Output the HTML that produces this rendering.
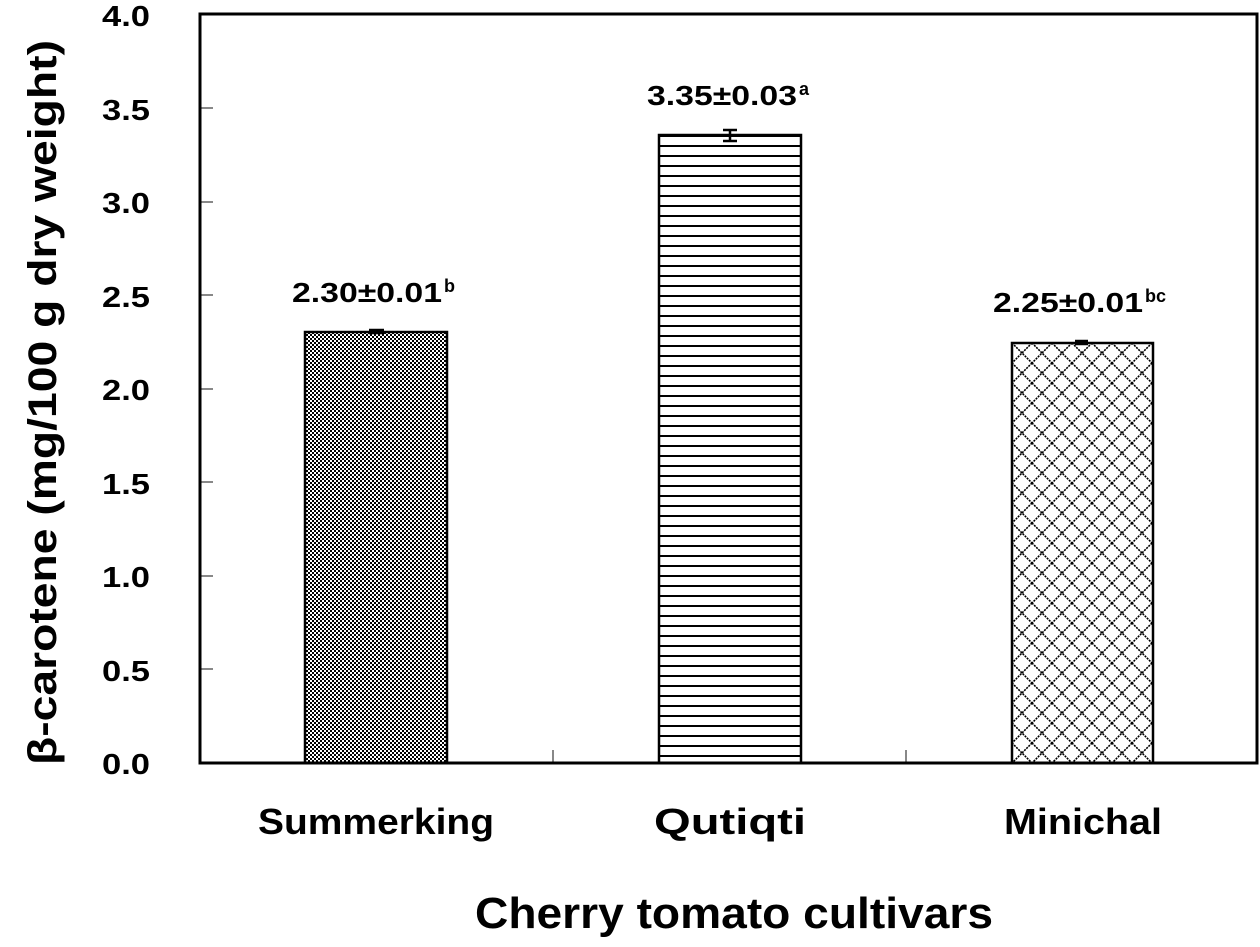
<!DOCTYPE html>
<html><head><style>body{margin:0;background:#fff}</style></head><body>
<svg width="1260" height="942" xmlns="http://www.w3.org/2000/svg" font-family="'Liberation Sans','Noto Sans CJK KR',sans-serif" font-weight="bold">
<defs>
<pattern id="chk" width="4" height="4" patternUnits="userSpaceOnUse">
<rect width="4" height="4" fill="#fff"/><rect width="2" height="2" fill="#000"/><rect x="2" y="2" width="2" height="2" fill="#000"/>
</pattern>
<pattern id="hl" width="10" height="10" patternUnits="userSpaceOnUse" y="135">
<rect width="10" height="10" fill="#fff"/><rect y="0" width="10" height="2" fill="#000"/>
</pattern>
<pattern id="xh" width="20" height="20" patternUnits="userSpaceOnUse" x="1012" y="343">
<rect width="20" height="20" fill="#fff"/>
<path d="M0 0L20 20M20 0L0 20" stroke="#000" stroke-width="1.6" stroke-dasharray="2 1"/>
</pattern>
</defs>
<g stroke="#888" stroke-width="2">
<line x1="200" y1="108" x2="213" y2="108"/><line x1="200" y1="202" x2="213" y2="202"/>
<line x1="200" y1="295" x2="213" y2="295"/><line x1="200" y1="389" x2="213" y2="389"/>
<line x1="200" y1="482" x2="213" y2="482"/><line x1="200" y1="576" x2="213" y2="576"/>
<line x1="200" y1="669" x2="213" y2="669"/>
<line x1="553" y1="763" x2="553" y2="750"/><line x1="906" y1="763" x2="906" y2="750"/>
</g>
<rect x="305" y="332" width="142" height="431" fill="url(#chk)" stroke="#000" stroke-width="2.5"/>
<rect x="659" y="135" width="142" height="628" fill="url(#hl)" stroke="#000" stroke-width="2.5"/>
<rect x="1012" y="343" width="141" height="420" fill="url(#xh)" stroke="#000" stroke-width="2.5"/>
<g stroke="#000" stroke-width="2.5">
<line x1="369" y1="330" x2="384" y2="330"/><line x1="369" y1="333" x2="384" y2="333"/>
<line x1="723" y1="130" x2="737" y2="130"/><line x1="730" y1="130" x2="730" y2="141"/><line x1="723" y1="141" x2="737" y2="141"/>
<line x1="1075" y1="341" x2="1088" y2="341"/><line x1="1075" y1="344" x2="1088" y2="344"/>
</g>
<rect x="200" y="14" width="1057" height="749" fill="none" stroke="#000" stroke-width="3"/>
<g font-size="29" fill="#000">
<text x="102" y="26" textLength="48" lengthAdjust="spacingAndGlyphs">4.0</text>
<text x="102" y="120" textLength="48" lengthAdjust="spacingAndGlyphs">3.5</text>
<text x="102" y="213" textLength="48" lengthAdjust="spacingAndGlyphs">3.0</text>
<text x="102" y="307" textLength="48" lengthAdjust="spacingAndGlyphs">2.5</text>
<text x="102" y="400" textLength="48" lengthAdjust="spacingAndGlyphs">2.0</text>
<text x="102" y="494" textLength="48" lengthAdjust="spacingAndGlyphs">1.5</text>
<text x="102" y="587" textLength="48" lengthAdjust="spacingAndGlyphs">1.0</text>
<text x="102" y="681" textLength="48" lengthAdjust="spacingAndGlyphs">0.5</text>
<text x="102" y="774" textLength="48" lengthAdjust="spacingAndGlyphs">0.0</text>
</g>
<g font-size="28">
<text x="292" y="302" textLength="150" lengthAdjust="spacingAndGlyphs">2.30±0.01</text><text x="444" y="292" font-size="18">b</text>
<text x="647" y="105" textLength="150" lengthAdjust="spacingAndGlyphs">3.35±0.03</text><text x="799" y="95" font-size="18">a</text>
<text x="993" y="312" textLength="150" lengthAdjust="spacingAndGlyphs">2.25±0.01</text><text x="1145" y="302" font-size="18">bc</text>
</g>
<g font-size="36">
<text x="258" y="834" textLength="236" lengthAdjust="spacingAndGlyphs">Summerking</text>
<text x="654" y="834" textLength="152" lengthAdjust="spacingAndGlyphs">Qutiqti</text>
<text x="1004" y="834" textLength="158" lengthAdjust="spacingAndGlyphs">Minichal</text>
</g>
<text x="475" y="928" font-size="44" textLength="518" lengthAdjust="spacingAndGlyphs">Cherry tomato cultivars</text>
<text transform="translate(56,765) rotate(-90)" font-size="40" textLength="725" lengthAdjust="spacingAndGlyphs">β-carotene  (mg/100 g dry weight)</text>
</svg>
</body></html>
